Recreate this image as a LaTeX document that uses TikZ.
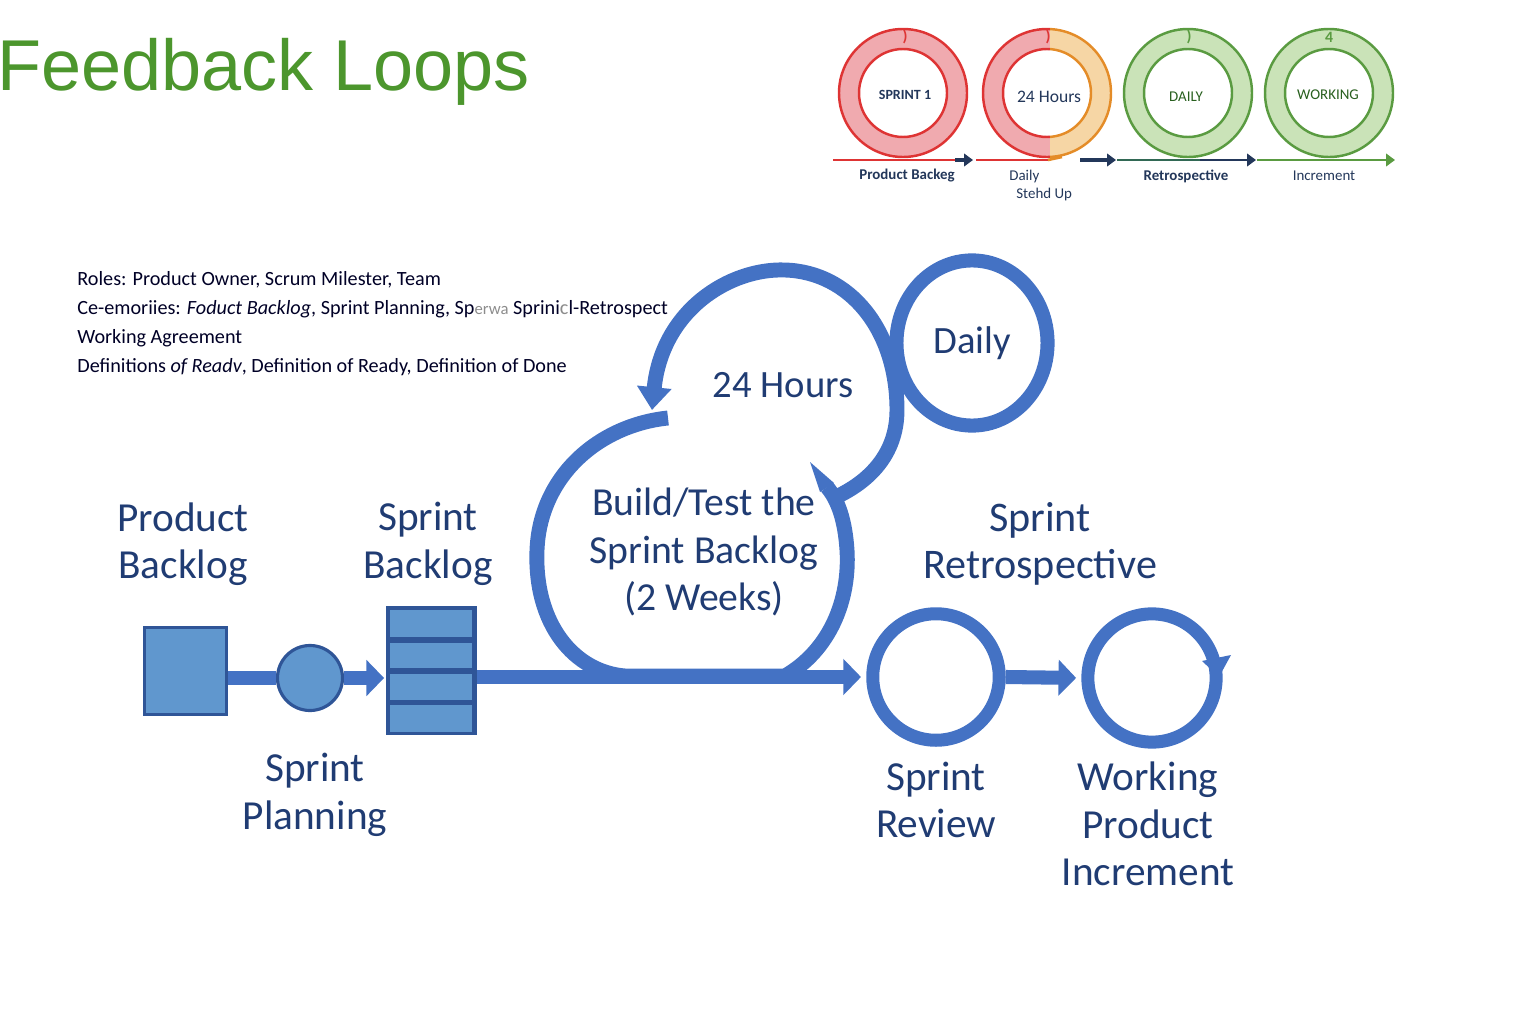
\documentclass[tikz,border=0pt]{standalone}
\usepackage{fontspec}
\setmainfont{Carlito}
\newfontfamily\titlefont{Liberation Sans}
\usetikzlibrary{arrows.meta,shapes.geometric}
\definecolor{mblue}{RGB}{68,114,196}
\definecolor{mfill}{RGB}{96,151,206}
\definecolor{mdark}{RGB}{47,85,151}
\definecolor{mtext}{RGB}{32,60,115}
\definecolor{tgreen}{RGB}{76,150,45}
\definecolor{rred}{RGB}{222,52,52}
\definecolor{rpink}{RGB}{240,170,175}
\definecolor{rorange}{RGB}{228,140,40}
\definecolor{rpeach}{RGB}{246,214,165}
\definecolor{rgreen}{RGB}{90,155,65}
\definecolor{rlgreen}{RGB}{202,227,184}
\definecolor{rnavy}{RGB}{35,55,90}
\definecolor{rteal}{RGB}{50,105,85}
\definecolor{rgtext}{RGB}{40,95,30}
\begin{document}
\begin{tikzpicture}[x=0.02cm,y=-0.02cm,
  biglabel/.style={text=mtext, font=\fontsize{23.5}{27}\selectfont, align=center, inner sep=0},
  flow/.style={draw=mblue, line width=8pt},
  headA/.style={-{Triangle[length=10pt,width=20pt]}},
  loopline/.style={draw=mblue, line width=8.5pt},
  ring/.style={circle, draw=mblue, line width=7.4pt, inner sep=0},
  toplab/.style={text=rnavy, font=\fontsize{8.5}{10}\selectfont, inner sep=0},
  ringlab/.style={font=\fontsize{8.5}{10}\selectfont, inner sep=0},
  marklab/.style={font=\bfseries\fontsize{9}{10}\selectfont, inner sep=0},
  infotext/.style={anchor=base west, inner sep=0, text=black!85!blue, font=\fontsize{11.5}{14}\selectfont},
  smallhead/.style={-{Triangle[length=5pt,width=7pt]}}
]
\useasboundingbox (0,0) rectangle (1536,1024);

% ---------- title ----------
\node[anchor=base west, inner sep=0, text=tgreen, font=\titlefont\fontsize{41}{45}\selectfont] (title) at (-3,91) {Feedback Loops};

% ---------- top ring strip ----------
\fill[rpink, even odd rule] (903,93) circle[radius=64] (903,93) circle[radius=44];
\draw[rred, line width=1.4pt] (903,93) circle[radius=64] (903,93) circle[radius=44];
\begin{scope}
  \clip (960,0) rectangle (1050,200);
  \fill[rpink, even odd rule] (1047,93) circle[radius=64] (1047,93) circle[radius=44];
  \draw[rred, line width=1.4pt] (1047,93) circle[radius=64] (1047,93) circle[radius=44];
\end{scope}
\begin{scope}
  \clip (1050,0) rectangle (1120,200);
  \fill[rpeach, even odd rule] (1047,93) circle[radius=64] (1047,93) circle[radius=44];
  \draw[rorange, line width=1.4pt] (1047,93) circle[radius=64] (1047,93) circle[radius=44];
\end{scope}
\foreach \cx in {1188,1329}{
  \fill[rlgreen, even odd rule] (\cx,93) circle[radius=64] (\cx,93) circle[radius=44];
  \draw[rgreen, line width=1.4pt] (\cx,93) circle[radius=64] (\cx,93) circle[radius=44];
}
\node[marklab, text=rred] (m1) at (905,37) {)};
\node[marklab, text=rred] (m2) at (1048,37) {)};
\node[marklab, text=rgreen] (m3) at (1189,37) {)};
\node[marklab, text=rgreen] (m4) at (1329,37) {4};
\node[ringlab, text=rnavy, font=\bfseries\fontsize{8}{10}\selectfont] (r1) at (905,95) {SPRINT 1};
\node[ringlab, text=rnavy, font=\fontsize{10}{12}\selectfont] (r2) at (1049,97) {24 Hours};
\node[ringlab, text=rgtext] (r3) at (1186,97) {DAILY};
\node[ringlab, text=rgtext] (r4) at (1328,95) {WORKING};
\coordinate (a0) at (833,160); \coordinate (a1) at (955,160); \coordinate (a2) at (973,160);
\coordinate (b0) at (976,160); \coordinate (b1) at (1048,160); \coordinate (b2) at (1062,157);
\coordinate (b3) at (1080,160); \coordinate (b4) at (1116,160);
\coordinate (c0) at (1117,160); \coordinate (c1) at (1200,160); \coordinate (c2) at (1256,160);
\coordinate (d0) at (1257,160); \coordinate (d1) at (1395,160);
\draw[rred, line width=1.5pt] (a0) -- (a1);
\draw[rnavy, line width=2.2pt, smallhead] (a1) -- (a2);
\draw[rred, line width=1.5pt] (b0) -- (b1);
\draw[rorange, line width=1.5pt] (b1) -- (b2);
\draw[rnavy, line width=2.2pt, smallhead] (b3) -- (b4);
\draw[rteal, line width=1.5pt] (c0) -- (c1);
\draw[rnavy, line width=1.5pt, smallhead] (c1) -- (c2);
\draw[rgreen, line width=1.5pt, smallhead] (d0) -- (d1);
\node[toplab, font=\bfseries\fontsize{8.5}{10}\selectfont] (l1) at (907,176) {Product Backeg};
\node[toplab, anchor=west] (l2a) at (1009,177) {Daily};
\node[toplab, anchor=west] (l2b) at (1016,195) {Stehd Up};
\node[toplab, font=\bfseries\fontsize{8.5}{10}\selectfont] (l3) at (1186,176) {Retrospective};
\node[toplab] (l4) at (1324,176) {Increment};

% ---------- info text ----------
\node[infotext] (t1) at (77,285) {Roles: Product Owner, Scrum Milester, Team};
\node[infotext] (t2) at (77,314) {Ce-emoriies: \textit{Foduct Backlog}, Sprint Planning, Sp{\color{black!45}\fontsize{9.5}{12}\selectfont erwa} Sprini{\color{black!45}c}l-Retrospect};
\node[infotext] (t3) at (77,343) {Working Agreement};
\node[infotext] (t4) at (77,372) {Definitions \textit{of Readv}, Definition of Ready, Definition of Done};

% ---------- main flow ----------
\node[draw=mdark, fill=mfill, line width=1.8pt, minimum width=46.5pt, minimum height=49.5pt, inner sep=0] (pb) at (185.5,671) {};
\node[circle, draw=mdark, fill=mfill, line width=1.8pt, minimum size=37pt, inner sep=0] (sp) at (310,678) {};
\node[fill=mdark, minimum width=51.6pt, minimum height=73pt, inner sep=0] (sb) at (431.5,670.5) {};
\foreach \ya/\yb in {610/637, 643/668, 674/700, 705/732}{
  \fill[mfill] (390,\ya) rectangle (472,\yb);
}
\node[ring, minimum size=72pt] (sr) at (936,677) {};
\node[ring, minimum size=73pt] (wp) at (1152,678) {};
\fill[mblue] (1202,661) -- (1231,655) -- (1219,677) -- cycle;

\draw[flow] (pb.east |- sp.west) -- (sp.west);
\draw[flow, headA] (sp.east) -- ([xshift=-1pt]sb.west |- sp.east);
\draw[flow, headA, shorten >=3pt] (sb.east |- sr.west) -- (sr.west);
\draw[flow, headA, shorten >=3pt] (sr.east) -- (wp.west);

% ---------- build / test loop ----------
\node[ellipse, draw=mblue, line width=8pt, minimum width=86pt, minimum height=94pt, inner sep=0] (dl) at (972,343) {};
\draw[loopline, {Triangle[length=13pt,width=19pt]}-] (652,410) .. controls (662,310) and (730,268) .. (785,270) .. controls (850,272) and (897,330) .. (897,410) .. controls (897,455) and (868,482) .. (836,497);
\draw[loopline] (668,418) .. controls (600,425) and (540,475) .. (537,550) .. controls (534,625) and (575,672) .. (625,676) -- (785,676) .. controls (830,650) and (850,600) .. (847,550) .. controls (845,520) and (838,500) .. (827,487);
\fill[mblue] (834,483) -- (810,462) -- (820,492) -- cycle;

% ---------- labels ----------
\node[biglabel, font=\fontsize{22}{26}\selectfont] (hrs) at (783,385) {24 Hours};
\node[biglabel, font=\fontsize{22}{26}\selectfont] (dll) at (dl) {Daily};
\node[biglabel, font=\fontsize{22.6}{27}\selectfont] (bt) at (704,552) {Build/Test the\\Sprint Backlog\\(2 Weeks)};
\node[biglabel] (pbl) at (183,544) {Product\\Backlog};
\node[biglabel] (sbl) at (428,544) {Sprint\\Backlog};
\node[biglabel] (spl) at (315,795) {Sprint\\Planning};
\node[biglabel, font=\fontsize{24}{27}\selectfont] (srl) at (1040,544) {Sprint\\Retrospective};
\node[biglabel] (svl) at (936,800) {Sprint\\Review};
\node[biglabel] (wpl) at (1148,824) {Working\\Product\\Increment};
\end{tikzpicture}
\end{document}
